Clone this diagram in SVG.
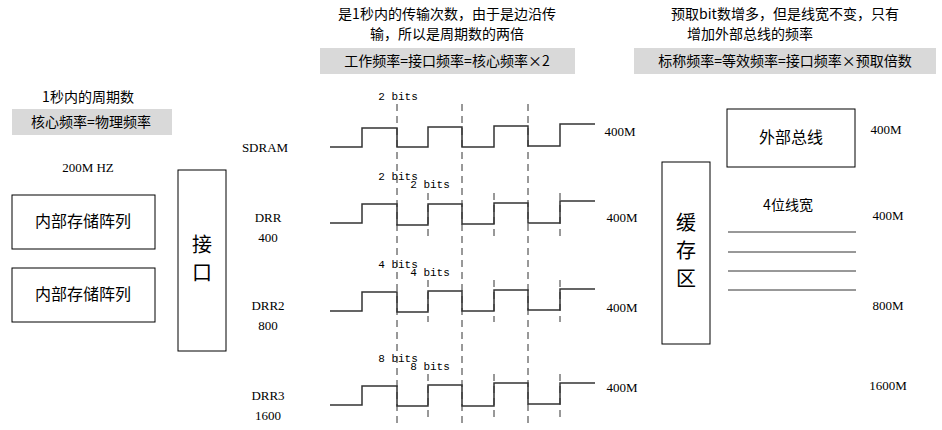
<svg xmlns="http://www.w3.org/2000/svg" width="942" height="430" viewBox="0 0 942 430">
<style>
text{font-family:"Noto Sans CJK SC","Liberation Sans",sans-serif;fill:#000}
.s{font-size:14px}.m{font-size:11px;font-family:"Liberation Mono",monospace}
.r{font-size:13px;font-family:"Liberation Serif",serif}
.b{fill:#fff;stroke:#000;stroke-width:1}
.w{fill:none;stroke:#333;stroke-width:1.5}
.d{stroke:#333;stroke-width:1;stroke-dasharray:7,5}
.g{fill:#d9d9d9}
.l{stroke:#333;stroke-width:1}
</style>
<rect width="942" height="430" fill="#fff"/>
<g id="titles">
<text x="447" y="19" class="s" text-anchor="middle">是1秒内的传输次数，由于是边沿传</text>
<text x="447" y="39" class="s" text-anchor="middle">输，所以是周期数的两倍</text>
<rect x="320" y="48" width="255" height="26" class="g"/>
<text x="447" y="66" class="s" text-anchor="middle">工作频率=接口频率=核心频率×2</text>
<text x="785" y="19" class="s" text-anchor="middle">预取bit数增多，但是线宽不变，只有</text>
<text x="750" y="39" class="s" text-anchor="middle">增加外部总线的频率</text>
<rect x="634" y="48" width="302" height="26" class="g"/>
<text x="785" y="66" class="s" text-anchor="middle">标称频率=等效频率=接口频率×预取倍数</text>
<text x="88" y="102" class="s" text-anchor="middle">1秒内的周期数</text>
<rect x="12" y="109" width="160" height="26" class="g"/>
<text x="91" y="127" class="s" text-anchor="middle">核心频率=物理频率</text>
<text x="88" y="172" class="r" text-anchor="middle">200M HZ</text>
</g>
<g id="mem1"><rect x="12" y="195" width="143" height="54" class="b"/><text x="83" y="227" text-anchor="middle" font-size="16">内部存储阵列</text></g>
<g id="mem2"><rect x="12" y="268" width="143" height="54" class="b"/><text x="83" y="300" text-anchor="middle" font-size="16">内部存储阵列</text></g>
<g id="iface"><rect x="178" y="170" width="48" height="181" class="b"/><text x="202" y="252" text-anchor="middle" font-size="20" fill="#1f3a8a">接</text><text x="202" y="280" text-anchor="middle" font-size="20" fill="#1f3a8a">口</text></g>
<g id="buffer"><rect x="662" y="162" width="48" height="182" class="b"/><text x="686" y="230" text-anchor="middle" font-size="20">缓</text><text x="686" y="258" text-anchor="middle" font-size="20">存</text><text x="686" y="286" text-anchor="middle" font-size="20">区</text></g>
<g id="bus"><rect x="727" y="109" width="128" height="58" class="b"/><text x="791" y="143" text-anchor="middle" font-size="16" fill="#8b1a1a">外部总线</text></g>
<g id="labels">
<text x="265" y="152" class="r" text-anchor="middle">SDRAM</text>
<text x="268" y="222" class="r" text-anchor="middle">DRR</text><text x="268" y="242" class="r" text-anchor="middle">400</text>
<text x="268" y="310" class="r" text-anchor="middle">DRR2</text><text x="268" y="330" class="r" text-anchor="middle">800</text>
<text x="268" y="400" class="r" text-anchor="middle">DRR3</text><text x="268" y="420" class="r" text-anchor="middle">1600</text>
<text x="620" y="136" class="r" text-anchor="middle">400M</text>
<text x="622" y="222" class="r" text-anchor="middle">400M</text>
<text x="622" y="312" class="r" text-anchor="middle">400M</text>
<text x="622" y="392" class="r" text-anchor="middle">400M</text>
<text x="886" y="134" class="r" text-anchor="middle">400M</text>
<text x="888" y="220" class="r" text-anchor="middle">400M</text>
<text x="888" y="310" class="r" text-anchor="middle">800M</text>
<text x="888" y="390" class="r" text-anchor="middle">1600M</text>
<text x="788" y="210" font-size="14" text-anchor="middle">4位线宽</text>
<text x="398" y="100" class="m" text-anchor="middle">2 bits</text>
<text x="398" y="180" class="m" text-anchor="middle">2 bits</text><text x="430" y="188" class="m" text-anchor="middle">2 bits</text>
<text x="398" y="268" class="m" text-anchor="middle">4 bits</text><text x="430" y="276" class="m" text-anchor="middle">4 bits</text>
<text x="398" y="362" class="m" text-anchor="middle">8 bits</text><text x="430" y="370" class="m" text-anchor="middle">8 bits</text>
</g>
<g id="connectors">
<path class="w" d="M330 147H362V128H397V147H428V127H462V147H494V126H528V146H560V124H595"/>
<path class="w" d="M330 223H362V204H397V225H428V204H462V224H494V203H528V223H560V201H595"/>
<path class="w" d="M330 311H362V292H397V312H428V291H462V311H494V290H528V310H560V289H595"/>
<path class="w" d="M330 405H362V386H397V406H428V385H462V406H494V383H528V404H560V383H595"/>
<line class="d" x1="397" y1="104" x2="397" y2="425"/>
<line class="d" x1="462" y1="104" x2="462" y2="425"/>
<line class="d" x1="528" y1="104" x2="528" y2="425"/>
<line class="d" x1="428" y1="193" x2="428" y2="240"/><line class="d" x1="494" y1="193" x2="494" y2="240"/><line class="d" x1="560" y1="193" x2="560" y2="240"/>
<line class="d" x1="428" y1="280" x2="428" y2="322"/><line class="d" x1="494" y1="280" x2="494" y2="322"/><line class="d" x1="560" y1="280" x2="560" y2="322"/>
<line class="d" x1="428" y1="374" x2="428" y2="418"/><line class="d" x1="494" y1="374" x2="494" y2="418"/><line class="d" x1="560" y1="374" x2="560" y2="418"/>
<line class="l" x1="728" y1="232" x2="856" y2="232"/>
<line class="l" x1="728" y1="252" x2="856" y2="252"/>
<line class="l" x1="728" y1="271" x2="856" y2="271"/>
<line class="l" x1="728" y1="290" x2="856" y2="290"/>
</g>
</svg>
